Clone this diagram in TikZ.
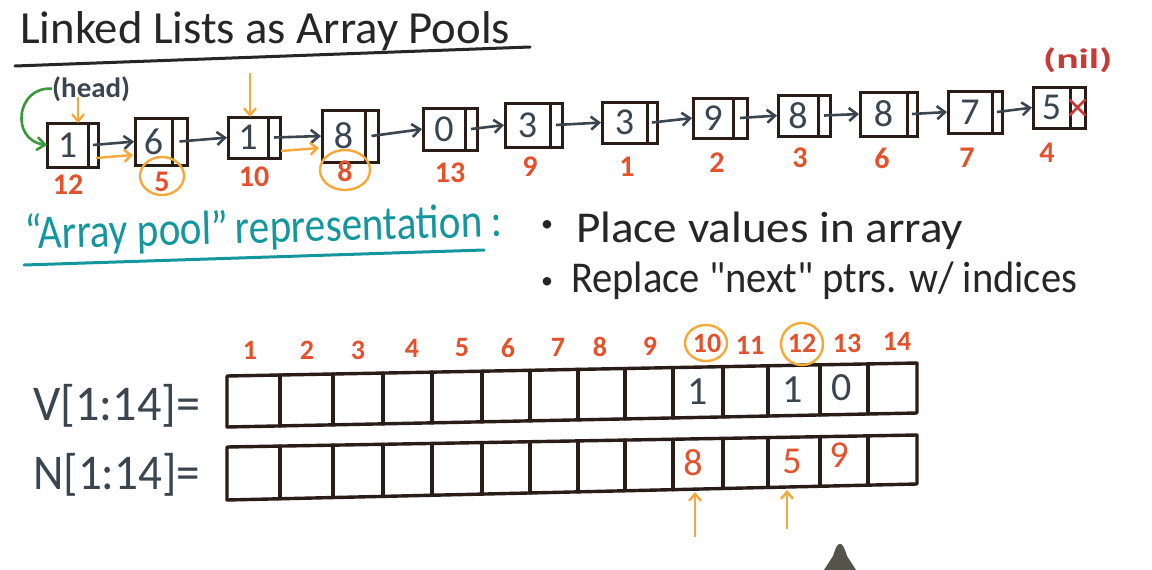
\documentclass[tikz,border=0pt]{standalone}
\usepackage{fontspec}
\usepackage{graphicx}
\setmainfont{Carlito}
\usetikzlibrary{arrows.meta,calc,shapes.geometric}
\definecolor{boxc}{HTML}{2A1C17}
\definecolor{slate}{HTML}{3A4550}
\definecolor{redl}{HTML}{E2522D}
\definecolor{orng}{HTML}{F4AA3A}
\definecolor{grn}{HTML}{3A9A3A}
\definecolor{tealc}{HTML}{14979C}
\definecolor{nilc}{HTML}{C73A35}
\definecolor{inkc}{HTML}{262626}
\definecolor{penc}{HTML}{55544A}
\newcommand{\fitw}[2]{\resizebox{#1}{\height}{#2}}
\begin{document}
\begin{tikzpicture}[x=1pt,y=-1pt,
  part/.style={draw=boxc, line width=3pt, rectangle, inner sep=0pt, outer sep=0pt},
  redlab/.style={text=redl, font=\fontsize{30}{30}\selectfont\bfseries, inner sep=0pt},
  link/.style={draw=slate, line width=2.6pt, -{Straight Barb[length=8pt,width=13pt]}, shorten >=1pt},
  oarr/.style={draw=orng, line width=2.4pt, -{Straight Barb[length=7pt,width=12pt]}},
  ocirc/.style={draw=orng, line width=2.4pt, ellipse, inner sep=0pt},
  ink/.style={text=inkc, inner sep=0pt},
  aval/.style={text=slate, inner sep=0pt, font=\fontsize{40}{40}\selectfont},
  nval/.style={text=redl, inner sep=0pt, font=\fontsize{38}{38}\selectfont},
  boxline/.style={draw=boxc, line width=3.4pt, line cap=round, line join=round}]

\fill[white] (0,0) rectangle (1152,570);
\useasboundingbox (0,0) rectangle (1152,570);

% title
\node[ink, anchor=base west, font=\fontsize{46}{46}\selectfont] (title) at (20,43) {\fitw{490pt}{Linked Lists as Array Pools}};
\draw[draw=inkc, line width=3pt, line cap=round] (15,66) -- (530,47);

% linked list
\foreach \i/\xa/\xb/\ya/\yb/\xd/\vv/\lb/\lx/\ly in {
  1/47/98/123/167/88/1/12/68/185,
  2/135/187/118/165/172/6/5/162/182,
  3/228/280/117/158/268/1/10/254/177,
  4/322/378/110/162/365/8/8/345/171,
  5/423/477/108/150/465/0/13/450/173,
  6/505/562/103/147/550/3/9/530/167,
  7/602/657/102/143/647/3/1/627/167,
  8/693/747/98/138/733/9/2/717/163,
  9/778/830/95/136/818/8/3/800/158,
  10/860/917/92/136/907/8/6/882/158,
  11/948/1002/91/133/992/7/7/967/158,
  12/1033/1085/87/128/1070/5/4/1047/153}{
  \node[part, anchor=north west, minimum width={\xd-\xa}, minimum height={\yb-\ya},
        text=slate, font=\fontsize{38}{38}\selectfont] (v\i) at (\xa,\ya) {\vv};
  \node[part, anchor=north west, minimum width={\xb-\xd}, minimum height={\yb-\ya}] (p\i) at (\xd,\ya) {};
  \node[redlab] (l\i) at (\lx,\ly) {\lb};
}
\foreach \i in {1,...,11}{
  \pgfmathtruncatemacro\j{\i+1}
  \draw[link] (p\i.center) -- (v\j.west);
}

% head
\node[ink, text=slate, anchor=base west, font=\fontsize{28}{28}\selectfont\bfseries] (head) at (52,97) {\fitw{78pt}{(head)}};
\draw[draw=grn, line width=2.6pt, -{Straight Barb[length=8pt,width=13pt]}] (head.west) .. controls (16,86) and (10,140) .. (v1.west);

% orange markers
\coordinate (ot1) at (78,97);
\draw[oarr] (ot1) -- (ot1 |- v1.north);
\coordinate (ot3) at (250,73);
\draw[oarr] (ot3) -- (ot3 |- v3.north);
\coordinate (ob1) at (96,158);
\coordinate (ob2) at (133,155);
\draw[oarr] (ob1) -- (ob2);
\coordinate (ob3) at (281,151);
\coordinate (ob4) at (319,148);
\draw[oarr] (ob3) -- (ob4);
\node[ocirc, minimum width=44pt, minimum height=38pt] (c2) at (162,176) {};
\node[ocirc, minimum width=50pt, minimum height=40pt] (c4) at (345,170) {};

% nil
\node[text=nilc, anchor=base west, inner sep=0pt, font=\fontsize{28}{28}\selectfont\bfseries] (nil) at (1043,68) {\fitw{69pt}{(nil)}};
\draw[draw=nilc, line width=2.6pt] ($(p12.center)+(-8,-8)$) -- ($(p12.center)+(8,8)$)
  ($(p12.center)+(-8,8)$) -- ($(p12.center)+(8,-8)$);

% array pool text
\node[text=tealc, anchor=base west, inner sep=0pt, rotate=1.5, font=\fontsize{48}{48}\selectfont] (apr) at (25,249) {\fitw{478pt}{“Array pool”\,representation~:}};
\draw[draw=tealc, line width=3pt, line cap=round] (24,265) -- (484,250);

\node[ink, font=\fontsize{24}{24}\selectfont] (b1) at (547,226) {\textbullet};
\node[ink, anchor=base west, font=\fontsize{44}{44}\selectfont] (t1) at (576,242) {\fitw{387pt}{Place values in array}};
\node[ink, font=\fontsize{24}{24}\selectfont] (b2) at (547,283) {\textbullet};
\node[ink, anchor=base west, font=\fontsize{44}{44}\selectfont] (t2) at (571,292) {\fitw{506pt}{Replace \textquotedbl next\textquotedbl\ ptrs. w/ indices}};

% array labels
\node[text=slate, inner sep=0pt, anchor=base west, font=\fontsize{50}{50}\selectfont] (vlab) at (33,420) {\fitw{167pt}{V[1:14]=}};
\node[text=slate, inner sep=0pt, anchor=base west, font=\fontsize{50}{50}\selectfont] (nlab) at (33,489) {\fitw{167pt}{N[1:14]=}};

% arrays
\coordinate (VTL) at (227,376); \coordinate (VTR) at (917,363);
\coordinate (VBL) at (227,427); \coordinate (VBR) at (917,413);
\coordinate (NTL) at (227,447); \coordinate (NTR) at (917,435);
\coordinate (NBL) at (227,500); \coordinate (NBR) at (917,484);
\draw[boxline] (VTL) -- (VTR) -- (VBR) -- (VBL) -- cycle;
\draw[boxline] (NTL) -- (NTR) -- (NBR) -- (NBL) -- cycle;
\foreach \x in {280,333,383,432,482,530,578,625,673,723,768,820,868}{
  \pgfmathsetmacro\tf{(\x-227)/690}
  \draw[boxline] ($(VTL)!\tf!(VTR)$) -- ($(VBL)!\tf!(VBR)$);
  \draw[boxline] ($(NTL)!\tf!(NTR)$) -- ($(NBL)!\tf!(NBR)$);
}

% indices
\foreach \n/\x/\y in {1/250/350,2/307/350,3/358/350,4/412/348,5/462/348,6/508/348,7/558/347,8/600/347,9/650/346,10/707/343,11/750/345,12/802/343,13/847/343,14/897/341}{
  \node[redlab, font=\fontsize{28}{28}\selectfont\bfseries] (i\n) at (\x,\y) {\n};
}
\node[ocirc, minimum width=42pt, minimum height=36pt] (c10) at (706,343) {};
\node[ocirc, minimum width=42pt, minimum height=42pt] (c12) at (802,344) {};

% values
\node[aval] (av10) at (698,392) {1};
\node[aval] (av12) at (793,390) {1};
\node[aval] (av13) at (842,388) {0};
\node[nval] (an10) at (693,463) {8};
\node[nval] (an12) at (792,461) {5};
\node[nval] (an13) at (839,455) {9};

\coordinate (u1s) at (695,537); \coordinate (u1e) at (695,492);
\draw[oarr] (u1s) -- (u1e);
\coordinate (u2s) at (787,529); \coordinate (u2e) at (787,490);
\draw[oarr] (u2s) -- (u2e);

% pen
\fill[penc] (839,544) .. controls (836,546) and (835,550) .. (833,556) -- (824,570) -- (856,570) -- (847,556) .. controls (845,550) and (844,546) .. (841,544) -- cycle;
\end{tikzpicture}
\end{document}
